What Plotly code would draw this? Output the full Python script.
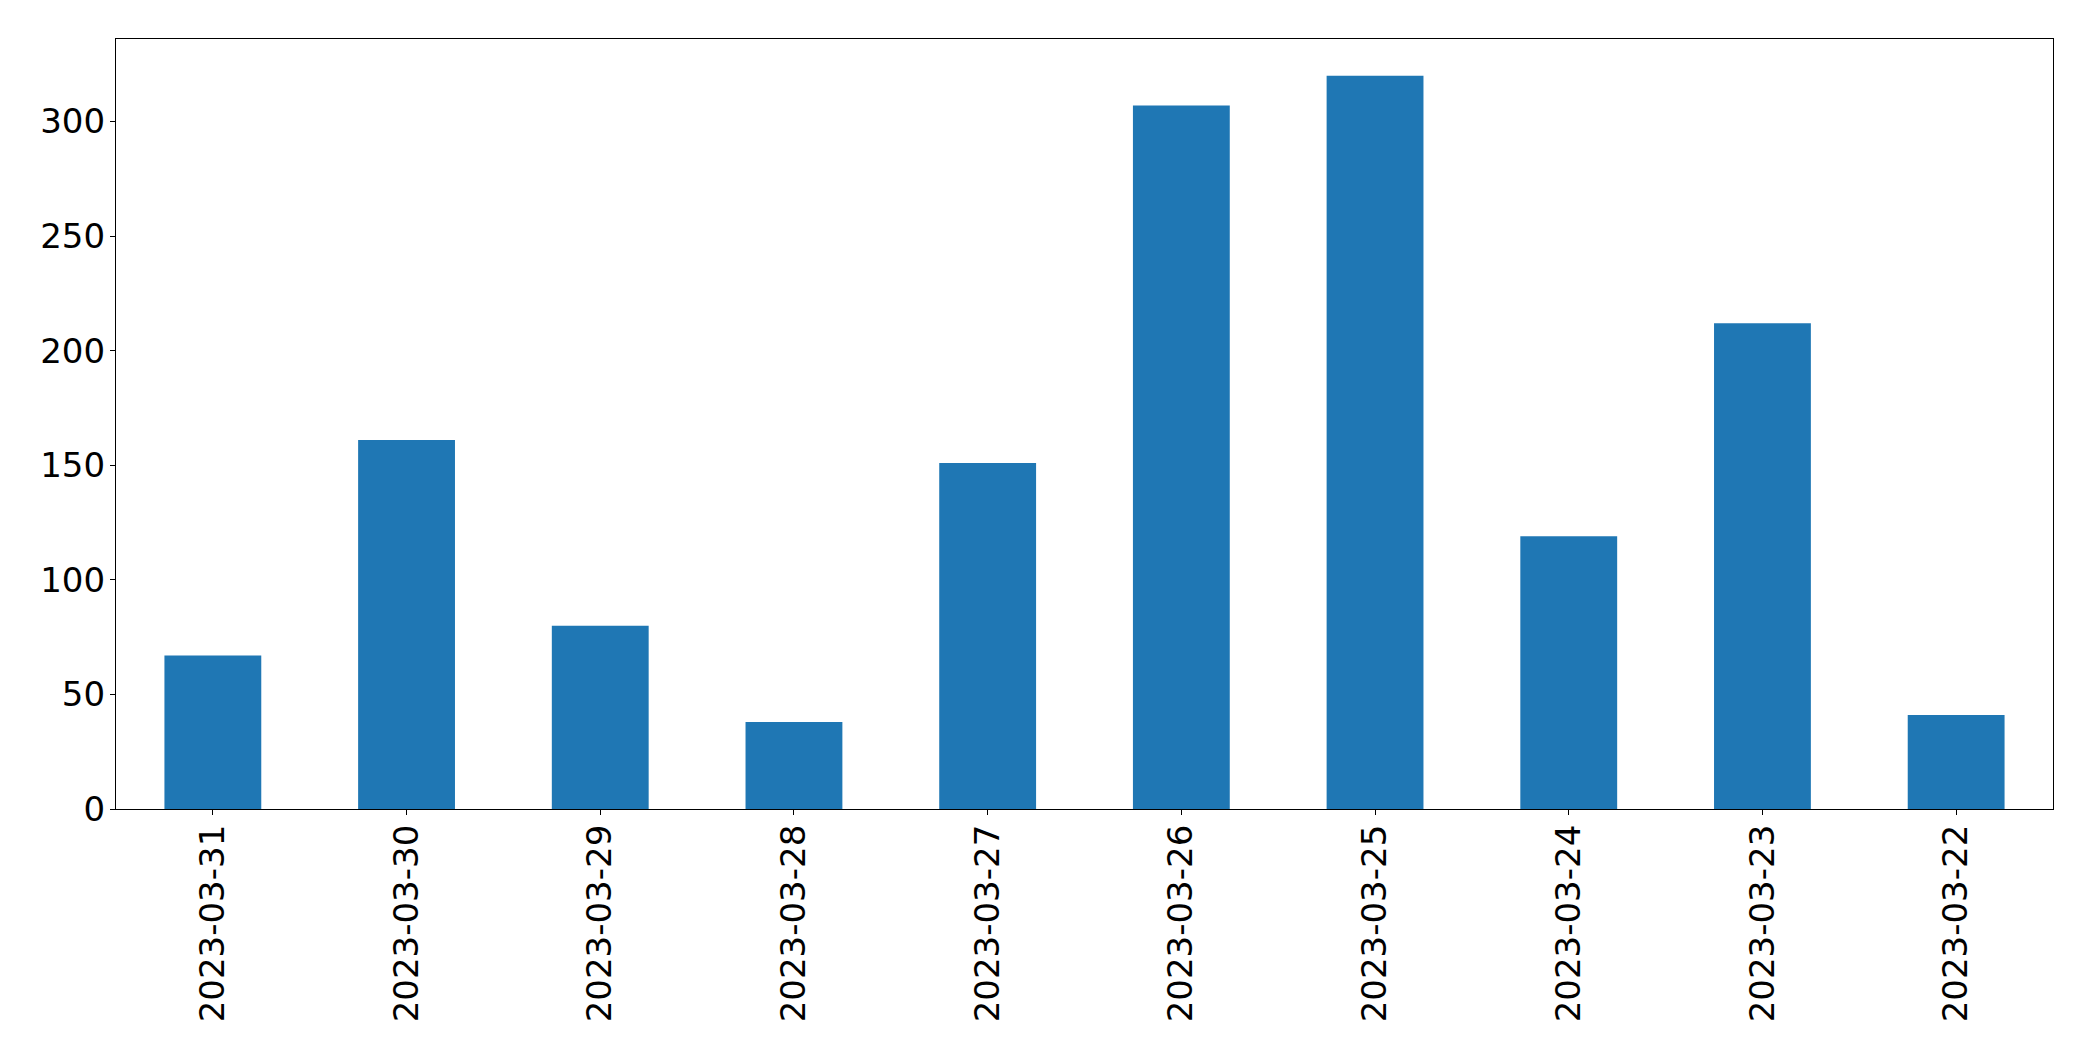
import plotly.graph_objects as go

dates = ["2023-03-31", "2023-03-30", "2023-03-29", "2023-03-28", "2023-03-27",
         "2023-03-26", "2023-03-25", "2023-03-24", "2023-03-23", "2023-03-22"]
counts = [67, 161, 80, 38, 151, 307, 320, 119, 212, 41]
y_ticks = [0, 50, 100, 150, 200, 250, 300]

fig = go.Figure(go.Bar(x=dates, y=counts, marker_color="#1f77b4",
                       marker_line_width=0, width=0.5))

font = dict(family="DejaVu Sans", size=34, color="black")
fig.update_layout(
    width=2077, height=1045, autosize=False,
    margin=dict(l=108, r=32, t=31, b=244, pad=0),
    paper_bgcolor="white", plot_bgcolor="white",
    font=font, showlegend=False,
)
fig.update_xaxes(type="category", range=[-0.5, len(dates) - 0.5],
                 tickangle=-90, ticks="outside", ticklen=5, tickwidth=1.3,
                 tickcolor="black", showline=True, linecolor="black",
                 linewidth=1.3, mirror=True, showgrid=False, tickfont=font,
                 ticklabelstandoff=-4)
fig.update_yaxes(range=[0, max(counts) * 1.05], tickvals=y_ticks,
                 ticks="outside", ticklen=5, tickwidth=1.3, tickcolor="black",
                 showline=True, linecolor="black", linewidth=1.3, mirror=True,
                 showgrid=False, zeroline=False, tickfont=font,
                 ticklabelstandoff=-2)

fig.write_html("out.html")
